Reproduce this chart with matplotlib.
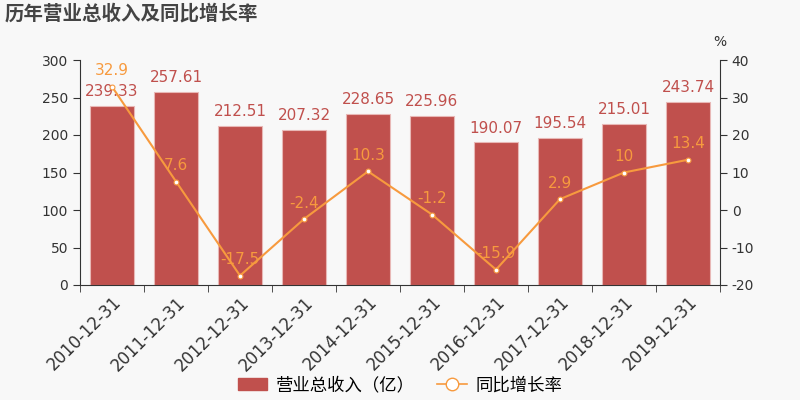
import numpy as np
import matplotlib
matplotlib.use("Agg")
import matplotlib.pyplot as plt
from matplotlib.lines import Line2D
from matplotlib.patches import FancyBboxPatch, Patch

plt.rcParams['font.family'] = ['DejaVu Sans', 'Noto Sans CJK SC']
plt.rcParams['axes.unicode_minus'] = False

years = ['2010-12-31', '2011-12-31', '2012-12-31', '2013-12-31', '2014-12-31',
         '2015-12-31', '2016-12-31', '2017-12-31', '2018-12-31', '2019-12-31']
revenue = [239.33, 257.61, 212.51, 207.32, 228.65, 225.96, 190.07, 195.54, 215.01, 243.74]
growth = [32.9, 7.6, -17.5, -2.4, 10.3, -1.2, -15.9, 2.9, 10, 13.4]

bar_c = '#c0504d'
line_c = '#f79a3e'
txt_c = '#333333'
bg = '#f8f8f8'

fig = plt.figure(figsize=(8, 4), dpi=100, facecolor=bg)
ax = fig.add_axes([0.1, 0.2875, 0.8, 0.5625])
ax.set_facecolor(bg)
x = np.arange(len(years))

ax.bar(x, revenue, width=0.7, color=bar_c, edgecolor='#e8b8b6', linewidth=0.8, zorder=2)
for xi, v in zip(x, revenue):
    ax.annotate('%g' % v, (xi, v), xytext=(0, 5), textcoords='offset points',
                ha='center', va='bottom', color=bar_c, fontsize=11)

ax.set_xlim(-0.5, len(years) - 0.5)
ax.set_ylim(0, 300)
ax.set_yticks(range(0, 301, 50))
ax.set_xticks(x)
ax.set_xticklabels(years, rotation=45, ha='right', rotation_mode='anchor', fontsize=12, color=txt_c)
ax.tick_params(axis='x', which='major', length=0, pad=6)
ax.set_xticks(np.arange(-0.5, len(years), 1), minor=True)
ax.tick_params(axis='x', which='minor', length=5, color=txt_c)
ax.tick_params(axis='y', labelsize=10, labelcolor=txt_c, color=txt_c, length=5)
for s in ['top', 'right']:
    ax.spines[s].set_visible(False)
for s in ['left', 'bottom']:
    ax.spines[s].set_color(txt_c)

ax2 = ax.twinx()
ax2.plot(x, growth, color=line_c, linewidth=1.5, marker='o', markersize=3.5,
         markerfacecolor='white', markeredgecolor=line_c, markeredgewidth=0.8, zorder=3)
for xi, v in zip(x, growth):
    ax2.annotate('%g' % v, (xi, v), xytext=(0, 6), textcoords='offset points',
                 ha='center', va='bottom', color=line_c, fontsize=11)
ax2.set_ylim(-20, 40)
ax2.set_yticks(range(-20, 41, 10))
ax2.tick_params(axis='y', labelsize=10, labelcolor=txt_c, color=txt_c, length=5)
for s in ['top', 'left', 'bottom']:
    ax2.spines[s].set_visible(False)
ax2.spines['right'].set_color(txt_c)
ax2.text(1.0, 1.05, '%', transform=ax2.transAxes, ha='center', va='bottom', fontsize=10, color=txt_c)

fig.text(0.006, 0.967, '历年营业总收入及同比增长率', fontsize=14, fontweight='bold',
         color='#444444', ha='left', va='center', family=['Noto Sans CJK SC'])

handles = [Patch(facecolor=bar_c, edgecolor=bar_c),
           Line2D([0], [0], color=line_c, marker='o', markersize=9, markerfacecolor='white',
                  markeredgecolor=line_c, linewidth=1.2)]
fig.legend(handles, ['营业总收入（亿）', '同比增长率'], loc='center', bbox_to_anchor=(0.5, 0.037),
           ncol=2, frameon=False, handlelength=1.7, handletextpad=0.5, columnspacing=1.3,
           prop={'family': ['Noto Sans CJK SC'], 'size': 12.5})

fig.savefig('out.png', dpi=100, facecolor=bg)
